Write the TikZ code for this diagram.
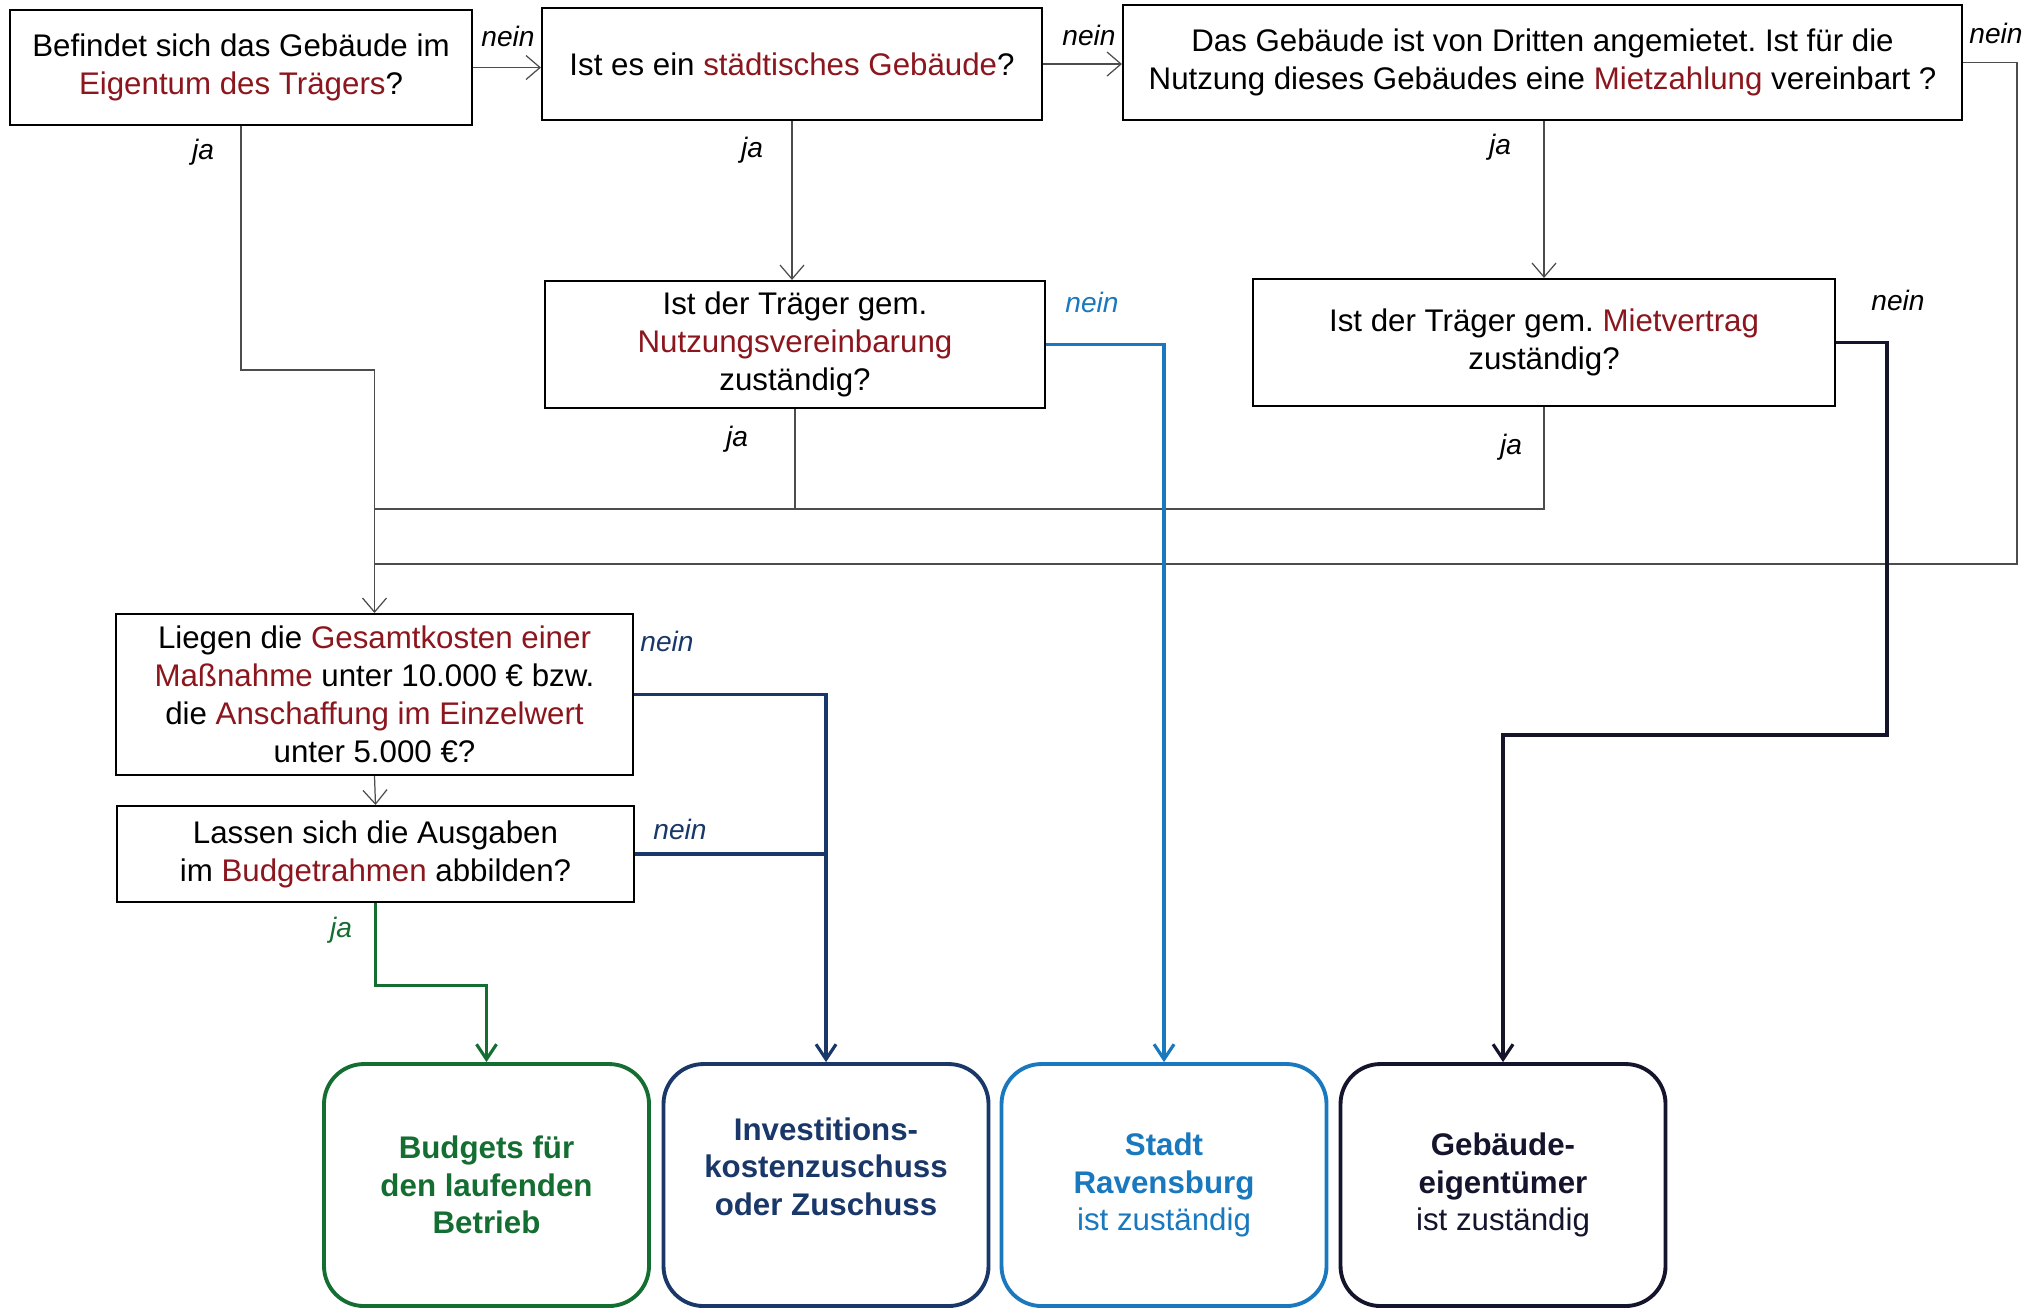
\documentclass[tikz,border=0pt]{standalone}
\usepackage{fontspec}
\setmainfont{Liberation Sans}
\usetikzlibrary{arrows.meta}
\definecolor{dunkelrot}{RGB}{140,22,30}
\definecolor{gruen}{RGB}{20,110,50}
\definecolor{navy}{RGB}{25,55,105}
\definecolor{hellblau}{RGB}{25,120,190}
\definecolor{schwarzblau}{RGB}{20,20,45}
\newcommand{\rot}[1]{\textcolor{dunkelrot}{#1}}
\frenchspacing

\begin{document}
\begin{tikzpicture}[x=0.1mm,y=-0.1mm,
  frage/.style={draw,line width=0.6pt,align=center,inner sep=0pt,font=\fontsize{8.9}{10.8}\selectfont},
  ziel/.style={draw,line width=1.1pt,rounded corners=4mm,align=center,inner sep=0pt,
    minimum width=32.5mm,minimum height=24.2mm,font=\fontsize{8.9}{10.6}\selectfont},
  linie/.style={draw=black!70,line width=0.35pt},
  pfeil/.style={linie,-{Straight Barb[length=1.4mm,width=2.4mm]}},
  dick/.style={line width=0.9pt,-{Straight Barb[length=1.5mm,width=2mm]}},
  lbl/.style={font=\fontsize{8}{9}\selectfont\itshape,inner sep=0pt}]
  \useasboundingbox[fill=white] (0,0) rectangle (2043,1311);

  % Fragen
  \node[frage,minimum width=46.2mm,minimum height=11.5mm] (A) at (241,67.5)
    {Befindet sich das Gebäude im\\ \rot{Eigentum des Trägers}?};
  \node[frage,minimum width=50mm,minimum height=11.2mm] (B) at (792,64)
    {Ist es ein \rot{städtisches Gebäude}?};
  \node[frage,minimum width=83.9mm,minimum height=11.5mm] (C) at (1542.5,62.5)
    {Das Gebäude ist von Dritten angemietet. Ist für die\\ Nutzung dieses Gebäudes eine \rot{Mietzahlung} vereinbart ?};
  \node[frage,minimum width=50mm,minimum height=12.7mm] (D) at (795,344.5)
    {Ist der Träger gem.\\ \rot{Nutzungsvereinbarung}\\ zuständig?};
  \node[frage,minimum width=58.2mm,minimum height=12.7mm] (E) at (1544,342.5)
    {Ist der Träger gem. \rot{Mietvertrag}\\ zuständig?};
  \node[frage,minimum width=51.7mm,minimum height=16.1mm] (F) at (374.5,694.5)
    {Liegen die \rot{Gesamtkosten einer}\\ \rot{Maßnahme} unter 10.000 € bzw.\\ die \rot{Anschaffung im Einzelwert}\\ unter 5.000 €?};
  \node[frage,minimum width=51.7mm,minimum height=9.6mm] (G) at (375.5,854)
    {Lassen sich die Ausgaben\\ im \rot{Budgetrahmen} abbilden?};

  % Ergebnisse
  \node[ziel,draw=gruen,text=gruen] (bud) at (486.5,1185)
    {\bfseries Budgets für\\ \bfseries den laufenden\\ \bfseries Betrieb};
  \node[ziel,draw=navy,text=navy] (inv) at (826,1185)
    {\bfseries Investitions-\\ \bfseries kostenzuschuss\\ \bfseries oder Zuschuss\\};
  \node[ziel,draw=hellblau,text=hellblau] (stadt) at (1164,1185)
    {\bfseries Stadt\\ \bfseries Ravensburg\\ ist zuständig};
  \node[ziel,draw=schwarzblau,text=schwarzblau] (eig) at (1503,1185)
    {\bfseries Gebäude-\\ \bfseries eigentümer\\ ist zuständig};

  \coordinate (k1) at (374.5,370);
  \coordinate (j1) at (374.5,509);
  \coordinate (j2) at (374.5,564);
  \coordinate (r1) at (2017,564);
  \coordinate (r2) at (1887,735);

  % Verbindungen
  \draw[pfeil] (A.east) -- (A.east -| B.west);
  \draw[pfeil] (B.east) -- (B.east -| C.west);
  \draw[linie] (C.east) -| (r1) -- (j2);
  \draw[pfeil] (A.south) |- (k1) -- (F.north);
  \draw[pfeil] (B.south) -- (B.south |- D.north);
  \draw[pfeil] (E.north |- C.south) -- (E.north);
  \draw[linie] (D.south) -- (D.south |- j1);
  \draw[linie] (E.south) |- (j1);
  \draw[pfeil] (F.south) -- (G.north);
  \draw[dick,hellblau] (D.east) -| (stadt.north);
  \draw[dick,schwarzblau] (E.east) -| (r2) -| (eig.north);
  \draw[dick,navy] (F.east) -| (inv.north);
  \draw[navy,line width=0.9pt] (G.east) -- (G.east -| inv.north);
  \draw[dick,gruen] (G.south) -- ++(0,82) -| (bud.north);

  % Beschriftungen
  \node[lbl] (nAB) at (508,36) {nein};
  \node[lbl] (nBC) at (1089,35) {nein};
  \node[lbl] (nC) at (1996,33) {nein};
  \node[lbl] (jA) at (203,152) {ja};
  \node[lbl] (jB) at (752,150) {ja};
  \node[lbl] (jC) at (1500,147) {ja};
  \node[lbl] (jD) at (737,439) {ja};
  \node[lbl] (jE) at (1511,447) {ja};
  \node[lbl,text=hellblau] (nD) at (1092,302) {nein};
  \node[lbl] (nE) at (1898,300) {nein};
  \node[lbl,text=navy] (nF) at (667,641) {nein};
  \node[lbl,text=navy] (nG) at (680,829) {nein};
  \node[lbl,text=gruen] (jG) at (341,930) {ja};
\end{tikzpicture}
\end{document}
